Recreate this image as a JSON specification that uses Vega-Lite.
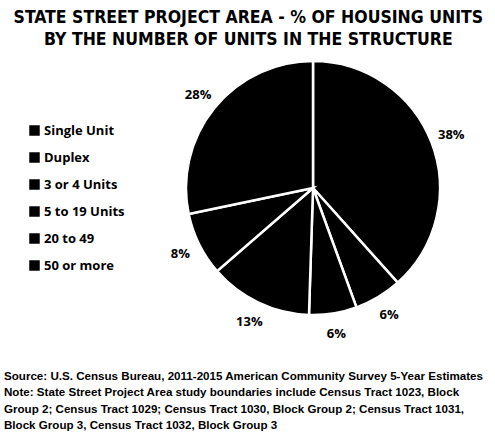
{
  "$schema": "https://vega.github.io/schema/vega-lite/v6.json",
  "background": "white",
  "padding": {"left": 4, "top": 8, "right": 5, "bottom": 3},
  "title": {
    "text": ["STATE STREET PROJECT AREA - % OF HOUSING UNITS", "BY THE NUMBER OF UNITS IN THE STRUCTURE"],
    "font": "DejaVu Sans Condensed",
    "fontSize": 17.5,
    "fontWeight": "bold",
    "color": "black",
    "anchor": "middle",
    "lineHeight": 22,
    "offset": 8,
    "dx": 3
  },
  "data": {
    "values": [
      {"type": "Single Unit", "pct": 0.38, "order": 1},
      {"type": "Duplex", "pct": 0.06, "order": 2},
      {"type": "3 or 4 Units", "pct": 0.06, "order": 3},
      {"type": "5 to 19 Units", "pct": 0.13, "order": 4},
      {"type": "20 to 49", "pct": 0.08, "order": 5},
      {"type": "50 or more", "pct": 0.28, "order": 6}
    ]
  },
  "resolve": {"scale": {"color": "independent"}, "legend": {"color": "independent"}},
  "vconcat": [
    {
      "width": 128,
      "height": 128,
      "title": {
        "text": [
          "Source:  U.S. Census Bureau, 2011-2015 American Community Survey 5-Year Estimates",
          "Note: State Street Project Area study boundaries include Census Tract 1023, Block",
          "Group 2; Census Tract 1029; Census Tract 1030, Block Group 2; Census Tract 1031,",
          "Block Group 3, Census Tract 1032, Block Group 3"
        ],
        "orient": "bottom",
        "anchor": "start",
        "frame": "bounds",
        "font": "Liberation Sans",
        "fontSize": 11.6,
        "fontWeight": "bold",
        "color": "black",
        "lineHeight": 16.3,
        "offset": 30,
        "dx": -24
      },
      "encoding": {
        "theta": {"field": "pct", "type": "quantitative", "stack": true},
        "order": {"field": "order", "type": "quantitative"},
        "color": {
          "field": "type",
          "type": "nominal",
          "scale": {
            "domain": ["Single Unit", "Duplex", "3 or 4 Units", "5 to 19 Units", "20 to 49", "50 or more"],
            "range": ["black", "black", "black", "black", "black", "black"]
          },
          "legend": {
            "orient": "none",
            "legendX": -221,
            "legendY": 0,
            "title": null,
            "symbolType": "square",
            "symbolSize": 110,
            "symbolStrokeWidth": 0,
            "labelFont": "Open Sans",
            "labelFontSize": 13,
            "labelFontWeight": "bold",
            "labelColor": "black",
            "labelOffset": 3,
            "rowPadding": 13
          }
        }
      },
      "layer": [
        {"mark": {"type": "arc", "outerRadius": 127, "stroke": "white", "strokeWidth": 2.5}},
        {
          "mark": {"type": "text", "radius": 148, "font": "Open Sans", "fontSize": 13, "fontWeight": "bold"},
          "encoding": {
            "text": {"field": "pct", "type": "quantitative", "format": ".0%"},
            "color": {"value": "black"}
          }
        }
      ]
    }
  ],
  "config": {"view": {"stroke": null}}
}
